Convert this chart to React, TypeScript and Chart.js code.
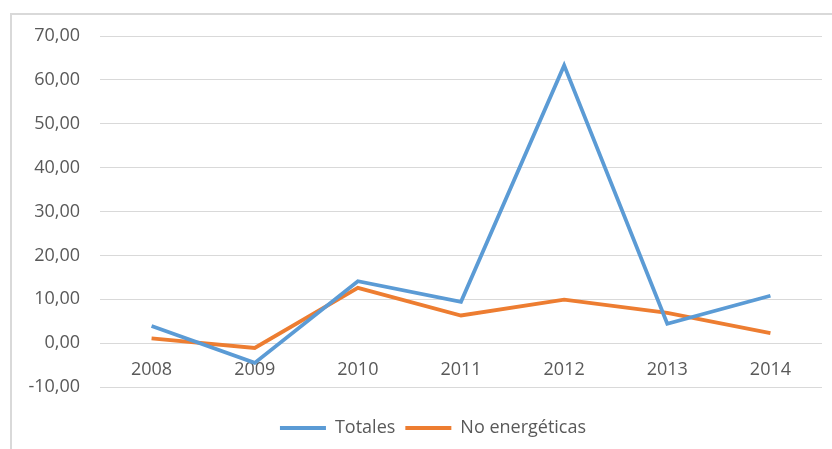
import React, { useEffect, useRef } from "react";
import { Chart, registerables } from "chart.js";

Chart.register(...registerables);

const years = ["2008", "2009", "2010", "2011", "2012", "2013", "2014"];
const totales = [3.9, -4.5, 14.1, 9.4, 63.3, 4.4, 10.8];
const noEnergeticas = [1.1, -1.1, 12.6, 6.3, 9.9, 6.9, 2.3];
const seriesNames = ["Totales", "No energéticas"];
const yMin = -10;
const yMax = 70;
const yStep = 10;

const FONT = "'Open Sans', 'Liberation Sans', sans-serif";
const TEXT = "#595959";
const GRID = "#D9D9D9";
const BLUE = "#5B9BD5";
const ORANGE = "#ED7D31";

const legendShift = {
  id: "legendShift",
  afterLayout(chart: any) {
    if (chart.legend) {
      chart.legend.left += 22;
      chart.legend.right += 22;
    }
  },
};

export default function App() {
  const ref = useRef<HTMLCanvasElement | null>(null);

  useEffect(() => {
    if (!ref.current) return;
    const chart = new Chart(ref.current, {
      type: "line",
      data: {
        labels: years,
        datasets: [
          {
            label: seriesNames[0],
            data: totales,
            borderColor: BLUE,
            backgroundColor: BLUE,
            borderWidth: 3.8,
            pointRadius: 0,
            tension: 0,
          },
          {
            label: seriesNames[1],
            data: noEnergeticas,
            borderColor: ORANGE,
            backgroundColor: ORANGE,
            borderWidth: 3.8,
            pointRadius: 0,
            tension: 0,
          },
        ],
      },
      plugins: [legendShift],
      options: {
        responsive: false,
        animation: false,
        layout: { padding: { left: 0, right: 10, top: 36, bottom: 2 } },
        plugins: {
          tooltip: { enabled: false },
          legend: {
            position: "bottom",
            align: "center",
            title: { display: true, text: "", padding: { top: 10, bottom: 0 }, font: { size: 10, family: FONT } },
            labels: {
              usePointStyle: true,
              pointStyle: "line",
              pointStyleWidth: 46,
              boxHeight: 18,
              padding: 10,
              color: TEXT,
              font: { size: 18, family: FONT },
            },
          },
        },
        scales: {
          x: {
            position: { y: 0 } as any,
            offset: true,
            grid: { display: false, drawTicks: false },
            border: { display: false },
            ticks: { color: TEXT, font: { size: 18, family: FONT }, padding: 16, maxRotation: 0 },
          },
          y: {
            min: yMin,
            max: yMax,
            afterFit: (s: any) => {
              s.width = 100;
            },
            grid: { color: GRID, lineWidth: 1, drawTicks: false },
            border: { display: false },
            ticks: {
              stepSize: yStep,
              color: TEXT,
              padding: 20,
              font: { size: 18, family: FONT },
              callback: (v: any) => Number(v).toFixed(2).replace(".", ","),
            },
          },
        },
      },
    });
    return () => chart.destroy();
  }, []);

  return (
    <div style={{ position: "fixed", left: 0, top: 0, width: 832, height: 449, background: "#fff", overflow: "hidden" }}>
      <div
        style={{
          position: "absolute",
          left: 10,
          top: 13,
          width: 840,
          height: 460,
          border: "2px solid #D9D9D9",
          boxSizing: "border-box",
        }}
      />
      <canvas ref={ref} width={832} height={449} style={{ position: "absolute", left: 0, top: 0 }} />
    </div>
  );
}
